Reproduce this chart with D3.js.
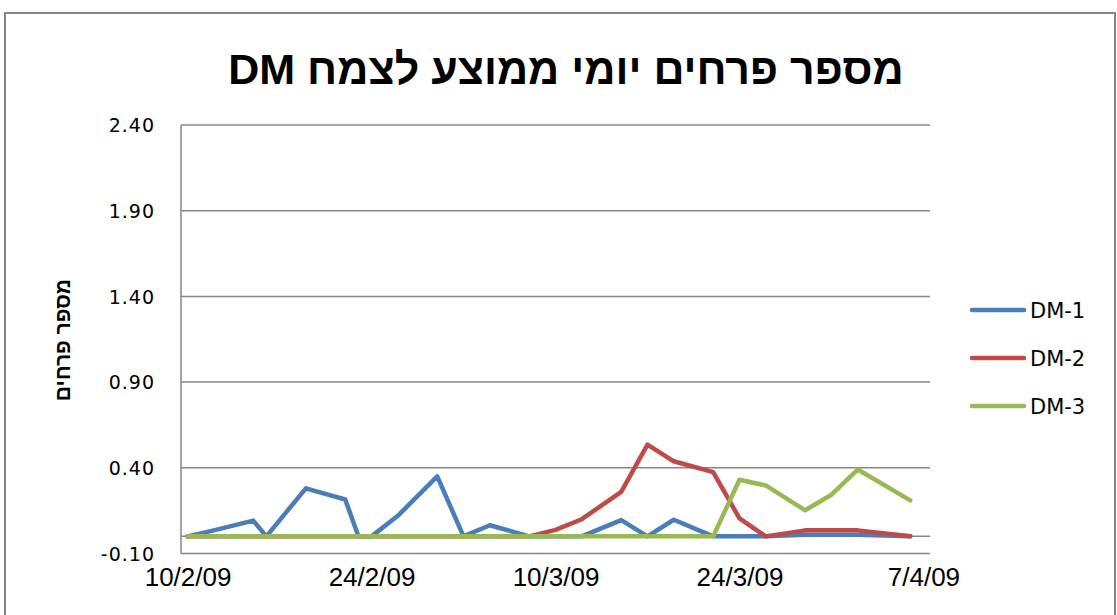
<!DOCTYPE html>
<html>
<head>
<meta charset="utf-8">
<script src="https://cdn.jsdelivr.net/npm/d3@7.9.0/dist/d3.min.js"></script>
<style>
  body { margin: 0; background: #fff; }
  svg { display: block; }
</style>
</head>
<body>
<svg id="chart" width="1117" height="615"></svg>
<script>
// data (dates = sampling days)
const dates = ["2009-02-10","2009-02-12","2009-02-15","2009-02-16","2009-02-19","2009-02-22","2009-02-23",
  "2009-02-24","2009-02-26","2009-03-01","2009-03-03","2009-03-05","2009-03-08","2009-03-10","2009-03-12",
  "2009-03-15","2009-03-17","2009-03-19","2009-03-22","2009-03-24","2009-03-26","2009-03-29","2009-03-31",
  "2009-04-02","2009-04-06"];
const dm1 = [0, 0.035, 0.092, 0, 0.28, 0.215, 0, 0, 0.12, 0.35, 0, 0.065, 0, 0, 0, 0.095, 0, 0.097, 0, 0, 0, 0.01, 0.01, 0.01, 0];
const dm2 = [0, 0, 0, 0, 0, 0, 0, 0, 0, 0, 0, 0, 0, 0.038, 0.10, 0.26, 0.535, 0.438, 0.375, 0.105, 0, 0.035, 0.036, 0.035, 0];
const dm3 = [0, 0, 0, 0, 0, 0, 0, 0, 0, 0, 0, 0, 0, 0, 0, 0, 0, 0, 0, 0.33, 0.297, 0.152, 0.243, 0.39, 0.21];
const seriesNames = ["DM-1", "DM-2", "DM-3"];
const seriesColors = ["#4a7ebb", "#be4b48", "#98b954"];
const yTicks = [-0.1, 0.4, 0.9, 1.4, 1.9, 2.4];
const xTickDates = ["2009-02-10", "2009-02-24", "2009-03-10", "2009-03-24", "2009-04-07"];
const titleText = "מספר פרחים יומי ממוצע לצמח DM";
const yTitle = "מספר פרחים";

const parse = d3.utcParse("%Y-%m-%d");
const svg = d3.select("#chart");
const grid = "#878787";

const plot = {left: 181, right: 930, top: 125, bottom: 553.5};

// half a day of padding on each end, like excel's date axis
const x = d3.scaleUtc()
  .domain([d3.utcHour.offset(parse("2009-02-10"), -12), d3.utcHour.offset(parse("2009-04-07"), 12)])
  .range([plot.left, plot.right]);
const y = d3.scaleLinear().domain([-0.1, 2.4]).range([plot.bottom, plot.top]);

// outer frame
svg.append("rect")
  .attr("x", 5).attr("y", 13).attr("width", 1110).attr("height", 640)
  .attr("fill", "none").attr("stroke", grid).attr("stroke-width", 2);

svg.append("text")
  .attr("x", 566).attr("y", 84)
  .attr("text-anchor", "middle")
  .attr("direction", "rtl")
  .attr("font-family", "Liberation Sans, Arial, sans-serif")
  .attr("font-weight", "bold").attr("font-size", 43)
  .text(titleText);

// gridlines + zero line
svg.append("g").selectAll("line")
  .data(yTicks.concat([0]))
  .join("line")
  .attr("x1", plot.left).attr("x2", plot.right)
  .attr("y1", d => y(d)).attr("y2", d => y(d))
  .attr("stroke", grid).attr("stroke-width", 1.5);

svg.append("line")
  .attr("x1", plot.left).attr("x2", plot.left).attr("y1", y(2.4)).attr("y2", y(-0.1))
  .attr("stroke", grid).attr("stroke-width", 1.5);

const yAxis = svg.append("g")
  .attr("transform", `translate(${plot.left - 26},0)`)
  .call(d3.axisLeft(y).tickValues(yTicks).tickFormat(d => d.toFixed(2)).tickSize(0).tickPadding(0));
yAxis.select(".domain").remove();
yAxis.selectAll("text")
  .attr("font-family", "DejaVu Sans, sans-serif").attr("font-size", 19)
  .attr("letter-spacing", 1).attr("fill", "#000").attr("dy", "0.35em");

const xAxis = svg.append("g")
  .attr("transform", `translate(0,${plot.bottom + 14})`)
  .call(d3.axisBottom(x).tickValues(xTickDates.map(parse)).tickFormat(d3.utcFormat("%-d/%-m/%y")).tickSize(0).tickPadding(0));
xAxis.select(".domain").remove();
xAxis.selectAll("text")
  .attr("font-family", "Liberation Sans, Arial, sans-serif").attr("font-size", 26)
  .attr("fill", "#000").attr("dy", "0.71em");

svg.append("text")
  .attr("transform", "translate(70,340) rotate(-90)")
  .attr("text-anchor", "middle")
  .attr("font-family", "Liberation Sans, Arial, sans-serif")
  .attr("font-weight", "bold").attr("font-size", 21)
  .text(yTitle);

const line = d3.line()
  .x((d, i) => x(parse(dates[i])))
  .y(d => y(d));

[dm1, dm2, dm3].forEach((vals, k) => {
  svg.append("path")
    .attr("d", line(vals))
    .attr("fill", "none")
    .attr("stroke", seriesColors[k])
    .attr("stroke-width", 4.5)
    .attr("stroke-linejoin", "round")
    .attr("stroke-linecap", "round");
});

// legend
const legend = svg.append("g");
seriesNames.forEach((name, k) => {
  const ly = 310 + k * 48;
  legend.append("line")
    .attr("x1", 972).attr("x2", 1024).attr("y1", ly).attr("y2", ly)
    .attr("stroke", seriesColors[k]).attr("stroke-width", 4.5).attr("stroke-linecap", "round");
  legend.append("text")
    .attr("x", 1030).attr("y", ly).attr("dy", "0.36em")
    .attr("font-family", "DejaVu Sans, sans-serif").attr("font-size", 21)
    .text(name);
});
</script>
</body>
</html>
